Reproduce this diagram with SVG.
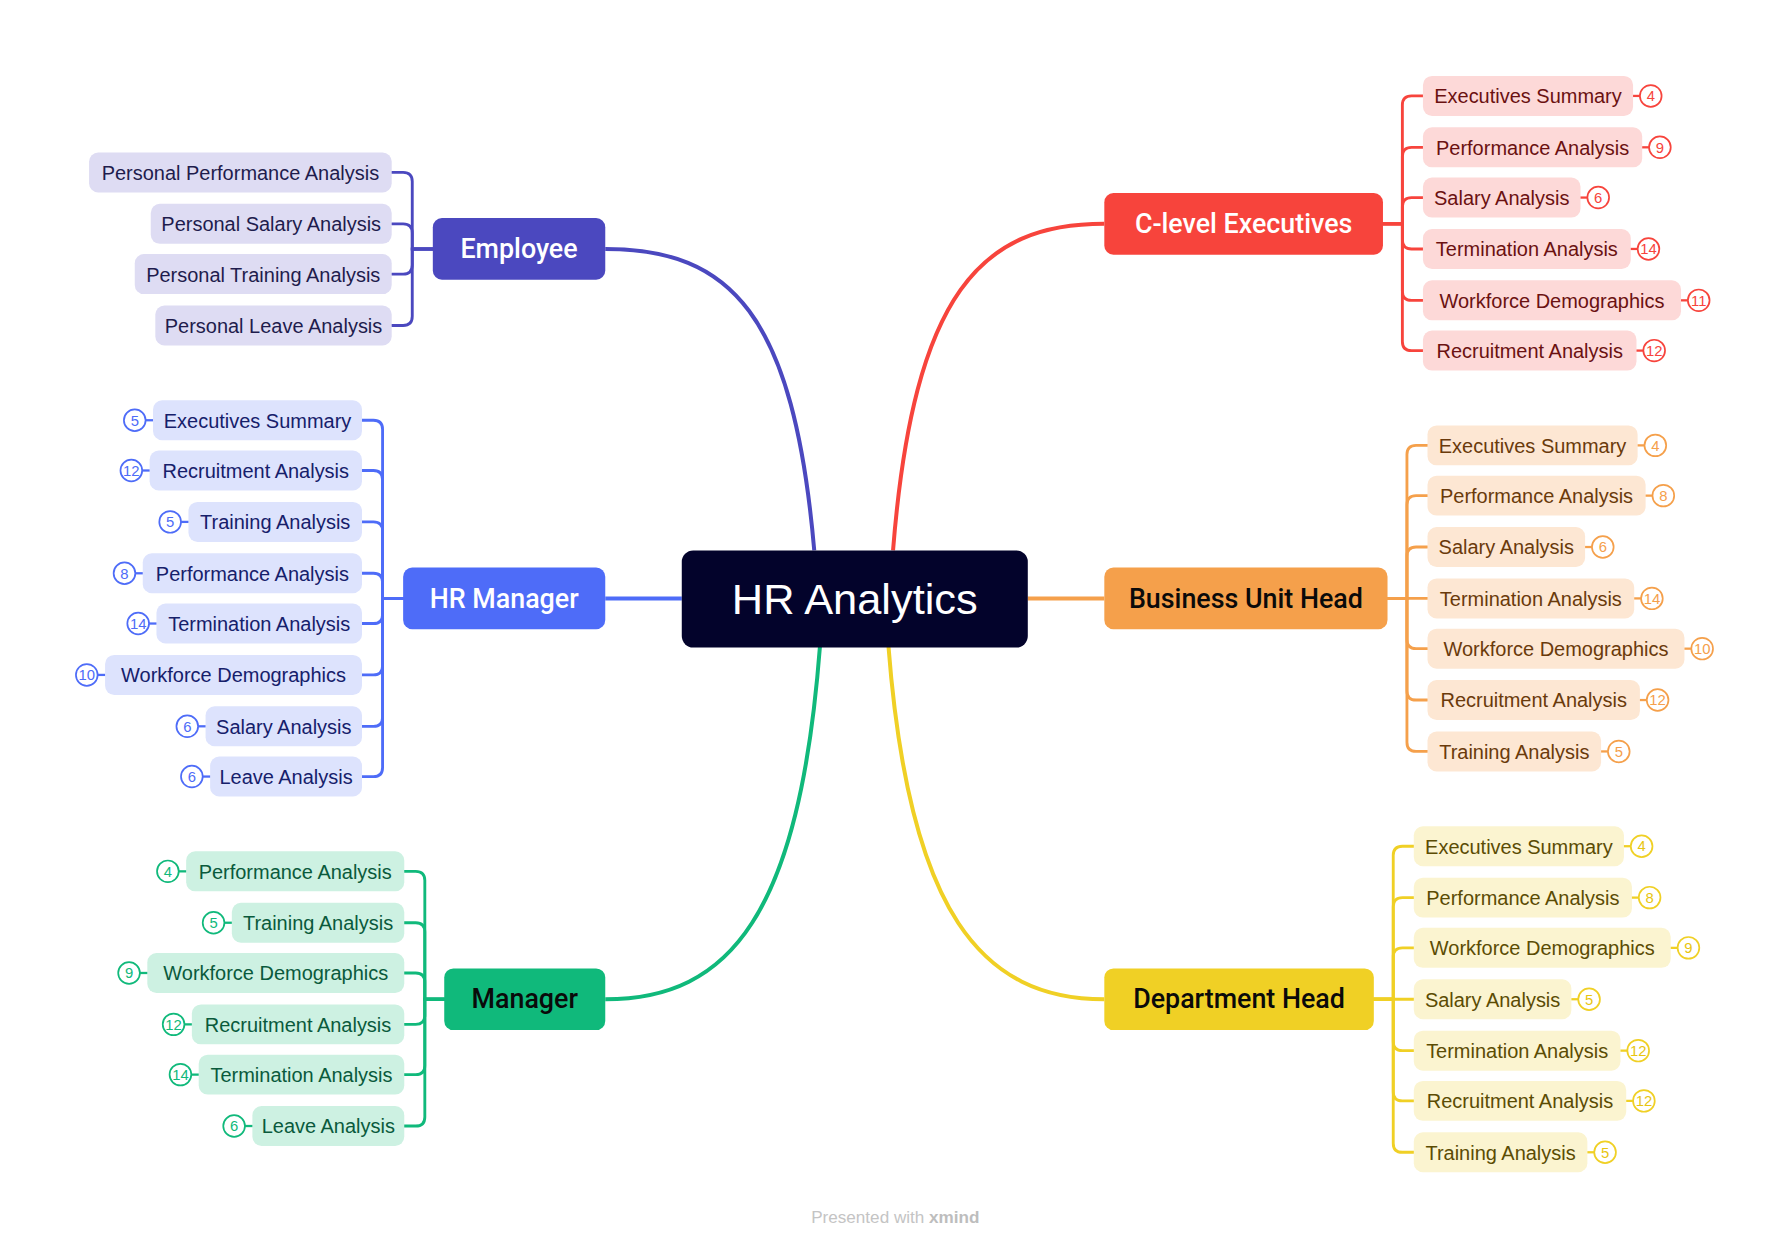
<svg xmlns="http://www.w3.org/2000/svg" width="1791" height="1248" viewBox="0 0 1791 1248">
<style>
text{font-family:"Liberation Sans",Arial,sans-serif}
.sub{font-size:17.5px;text-anchor:middle}
.main{font-family:Roboto,"Liberation Sans",sans-serif;font-size:23.5px;font-weight:500;text-anchor:middle}
.bt{font-size:13px;text-anchor:middle}
.br{fill:#fff;stroke-width:1.5}
.ln{fill:none;stroke-width:2.5;stroke-linecap:round}
.mln{fill:none;stroke-width:3.5}
.emp .c{fill:#DEDCF3}.emp text.sub{fill:#1F1C4D}
.hrm .c{fill:#DDE3FD}.hrm text.sub{fill:#16206B}.hrm .br,.hrm .bl{stroke:#4E6CF8}.hrm .bt{fill:#4E6CF8}
.mgr .c{fill:#CDF1E2}.mgr text.sub{fill:#0A5A3C}.mgr .br,.mgr .bl{stroke:#10B97B}.mgr .bt{fill:#10B97B}
.cl .c{fill:#FDD9D8}.cl text.sub{fill:#6B1111}.cl .br,.cl .bl{stroke:#F7443C}.cl .bt{fill:#F7443C}
.bu .c{fill:#FDE7D3}.bu text.sub{fill:#6A3A0B}.bu .br,.bu .bl{stroke:#F5A04B}.bu .bt{fill:#F5A04B}
.dh .c{fill:#FBF4D0}.dh text.sub{fill:#5B4C04}.dh .br,.dh .bl{stroke:#F0D025}.dh .bt{fill:#E8C510}
.bl{stroke-width:2}
</style>
<rect width="1791" height="1248" fill="#fff"/>
<g transform="scale(1.142)">
<g id="connectors">
<path class="mln" stroke="#4B48BF" d="M713,482 C695,275 640,218 530,218"/>
<path class="mln" stroke="#F7443C" d="M782,482 C800,255 860,196 967,196"/>
<path class="mln" stroke="#10B97B" d="M718,566 C700,800 640,875 530,875"/>
<path class="mln" stroke="#F0D025" d="M778,566 C796,800 860,875 967,875"/>
<path class="mln" stroke="#4E6CF8" d="M597,524 H530"/>
<path class="mln" stroke="#F5A04B" d="M900,524 H967"/>
<g stroke="#4B48BF">
<path class="ln" d="M379,218 H361 V159 Q361,151 353,151 H343"/>
<path class="ln" d="M379,218 H361 V204 Q361,196 353,196 H343"/>
<path class="ln" d="M379,218 H361 V232 Q361,240 353,240 H343"/>
<path class="ln" d="M379,218 H361 V277 Q361,285 353,285 H343"/>
</g>
<g stroke="#4E6CF8">
<path class="ln" d="M353,524 H335 V376 Q335,368 327,368 H317"/>
<path class="ln" d="M353,524 H335 V420 Q335,412 327,412 H317"/>
<path class="ln" d="M353,524 H335 V465 Q335,457 327,457 H317"/>
<path class="ln" d="M353,524 H335 V510 Q335,502 327,502 H317"/>
<path class="ln" d="M353,524 H335 V538 Q335,546 327,546 H317"/>
<path class="ln" d="M353,524 H335 V583 Q335,591 327,591 H317"/>
<path class="ln" d="M353,524 H335 V628 Q335,636 327,636 H317"/>
<path class="ln" d="M353,524 H335 V672 Q335,680 327,680 H317"/>
</g>
<g stroke="#10B97B">
<path class="ln" d="M389,875 H372 V771 Q372,763 364,763 H354"/>
<path class="ln" d="M389,875 H372 V816 Q372,808 364,808 H354"/>
<path class="ln" d="M389,875 H372 V860 Q372,852 364,852 H354"/>
<path class="ln" d="M389,875 H372 V889 Q372,897 364,897 H354"/>
<path class="ln" d="M389,875 H372 V933 Q372,941 364,941 H354"/>
<path class="ln" d="M389,875 H372 V978 Q372,986 364,986 H354"/>
</g>
<g stroke="#F7443C">
<path class="ln" d="M1211,196 H1228 V92 Q1228,84 1236,84 H1246"/>
<path class="ln" d="M1211,196 H1228 V137 Q1228,129 1236,129 H1246"/>
<path class="ln" d="M1211,196 H1228 V181 Q1228,173 1236,173 H1246"/>
<path class="ln" d="M1211,196 H1228 V210 Q1228,218 1236,218 H1246"/>
<path class="ln" d="M1211,196 H1228 V255 Q1228,263 1236,263 H1246"/>
<path class="ln" d="M1211,196 H1228 V299 Q1228,307 1236,307 H1246"/>
</g>
<g stroke="#F5A04B">
<path class="ln" d="M1215,524 H1232 V398 Q1232,390 1240,390 H1250"/>
<path class="ln" d="M1215,524 H1232 V442 Q1232,434 1240,434 H1250"/>
<path class="ln" d="M1215,524 H1232 V487 Q1232,479 1240,479 H1250"/>
<path class="ln" d="M1215,524 H1250"/>
<path class="ln" d="M1215,524 H1232 V560 Q1232,568 1240,568 H1250"/>
<path class="ln" d="M1215,524 H1232 V605 Q1232,613 1240,613 H1250"/>
<path class="ln" d="M1215,524 H1232 V650 Q1232,658 1240,658 H1250"/>
</g>
<g stroke="#F0D025">
<path class="ln" d="M1203,875 H1220 V749 Q1220,741 1228,741 H1238"/>
<path class="ln" d="M1203,875 H1220 V794 Q1220,786 1228,786 H1238"/>
<path class="ln" d="M1203,875 H1220 V838 Q1220,830 1228,830 H1238"/>
<path class="ln" d="M1203,875 H1238"/>
<path class="ln" d="M1203,875 H1220 V912 Q1220,920 1228,920 H1238"/>
<path class="ln" d="M1203,875 H1220 V956 Q1220,964 1228,964 H1238"/>
<path class="ln" d="M1203,875 H1220 V1001 Q1220,1009 1228,1009 H1238"/>
</g>
</g>

<g id="root">
<rect x="597" y="482" width="303" height="85" rx="10" fill="#03032B"/>
<text x="748.5" y="538" font-family="Roboto,'Liberation Sans',sans-serif" font-size="38" font-weight="500" fill="#fff" text-anchor="middle">HR Analytics</text>
</g>

<g id="employee" class="emp">
<rect x="379" y="191" width="151" height="54" rx="8" fill="#4B48BF"/>
<text class="main" x="454.5" y="226" fill="#fff">Employee</text>
</g>
<g id="emp-1" class="emp"><rect class="c" x="78" y="133.5" width="265" height="35" rx="8"/><text class="sub" x="210.5" y="157.5">Personal Performance Analysis</text></g>
<g id="emp-2" class="emp"><rect class="c" x="132" y="178.5" width="211" height="35" rx="8"/><text class="sub" x="237.5" y="202.5">Personal Salary Analysis</text></g>
<g id="emp-3" class="emp"><rect class="c" x="118" y="222.5" width="225" height="35" rx="8"/><text class="sub" x="230.5" y="246.5">Personal Training Analysis</text></g>
<g id="emp-4" class="emp"><rect class="c" x="136" y="267.5" width="207" height="35" rx="8"/><text class="sub" x="239.5" y="291.5">Personal Leave Analysis</text></g>

<g id="hr-manager" class="hrm">
<rect x="353" y="497" width="177" height="54" rx="8" fill="#4E6CF8"/>
<text class="main" x="441.5" y="532" fill="#fff">HR Manager</text>
</g>
<g id="hrm-1" class="hrm"><rect class="c" x="134" y="350.5" width="183" height="35" rx="8"/><text class="sub" x="225.5" y="374.5">Executives Summary</text><line class="bl" x1="127.5" y1="368" x2="134" y2="368"/><circle class="br" cx="118" cy="368" r="9.5"/><text class="bt" x="118" y="372.6">5</text></g>
<g id="hrm-2" class="hrm"><rect class="c" x="131" y="394.5" width="186" height="35" rx="8"/><text class="sub" x="224" y="418.5">Recruitment Analysis</text><line class="bl" x1="124.5" y1="412" x2="131" y2="412"/><circle class="br" cx="115" cy="412" r="9.5"/><text class="bt" x="115" y="416.6">12</text></g>
<g id="hrm-3" class="hrm"><rect class="c" x="165" y="439.5" width="152" height="35" rx="8"/><text class="sub" x="241" y="463.5">Training Analysis</text><line class="bl" x1="158.5" y1="457" x2="165" y2="457"/><circle class="br" cx="149" cy="457" r="9.5"/><text class="bt" x="149" y="461.6">5</text></g>
<g id="hrm-4" class="hrm"><rect class="c" x="125" y="484.5" width="192" height="35" rx="8"/><text class="sub" x="221" y="508.5">Performance Analysis</text><line class="bl" x1="118.5" y1="502" x2="125" y2="502"/><circle class="br" cx="109" cy="502" r="9.5"/><text class="bt" x="109" y="506.6">8</text></g>
<g id="hrm-5" class="hrm"><rect class="c" x="137" y="528.5" width="180" height="35" rx="8"/><text class="sub" x="227" y="552.5">Termination Analysis</text><line class="bl" x1="130.5" y1="546" x2="137" y2="546"/><circle class="br" cx="121" cy="546" r="9.5"/><text class="bt" x="121" y="550.6">14</text></g>
<g id="hrm-6" class="hrm"><rect class="c" x="92" y="573.5" width="225" height="35" rx="8"/><text class="sub" x="204.5" y="597.5">Workforce Demographics</text><line class="bl" x1="85.5" y1="591" x2="92" y2="591"/><circle class="br" cx="76" cy="591" r="9.5"/><text class="bt" x="76" y="595.6">10</text></g>
<g id="hrm-7" class="hrm"><rect class="c" x="180" y="618.5" width="137" height="35" rx="8"/><text class="sub" x="248.5" y="642.5">Salary Analysis</text><line class="bl" x1="173.5" y1="636" x2="180" y2="636"/><circle class="br" cx="164" cy="636" r="9.5"/><text class="bt" x="164" y="640.6">6</text></g>
<g id="hrm-8" class="hrm"><rect class="c" x="184" y="662.5" width="133" height="35" rx="8"/><text class="sub" x="250.5" y="686.5">Leave Analysis</text><line class="bl" x1="177.5" y1="680" x2="184" y2="680"/><circle class="br" cx="168" cy="680" r="9.5"/><text class="bt" x="168" y="684.6">6</text></g>

<g id="manager" class="mgr">
<rect x="389" y="848" width="141" height="54" rx="8" fill="#10B97B"/>
<text class="main" x="459.5" y="883" fill="#0A0A0A">Manager</text>
</g>
<g id="mgr-1" class="mgr"><rect class="c" x="163" y="745.5" width="191" height="35" rx="8"/><text class="sub" x="258.5" y="769.5">Performance Analysis</text><line class="bl" x1="156.5" y1="763" x2="163" y2="763"/><circle class="br" cx="147" cy="763" r="9.5"/><text class="bt" x="147" y="767.6">4</text></g>
<g id="mgr-2" class="mgr"><rect class="c" x="203" y="790.5" width="151" height="35" rx="8"/><text class="sub" x="278.5" y="814.5">Training Analysis</text><line class="bl" x1="196.5" y1="808" x2="203" y2="808"/><circle class="br" cx="187" cy="808" r="9.5"/><text class="bt" x="187" y="812.6">5</text></g>
<g id="mgr-3" class="mgr"><rect class="c" x="129" y="834.5" width="225" height="35" rx="8"/><text class="sub" x="241.5" y="858.5">Workforce Demographics</text><line class="bl" x1="122.5" y1="852" x2="129" y2="852"/><circle class="br" cx="113" cy="852" r="9.5"/><text class="bt" x="113" y="856.6">9</text></g>
<g id="mgr-4" class="mgr"><rect class="c" x="168" y="879.5" width="186" height="35" rx="8"/><text class="sub" x="261" y="903.5">Recruitment Analysis</text><line class="bl" x1="161.5" y1="897" x2="168" y2="897"/><circle class="br" cx="152" cy="897" r="9.5"/><text class="bt" x="152" y="901.6">12</text></g>
<g id="mgr-5" class="mgr"><rect class="c" x="174" y="923.5" width="180" height="35" rx="8"/><text class="sub" x="264" y="947.5">Termination Analysis</text><line class="bl" x1="167.5" y1="941" x2="174" y2="941"/><circle class="br" cx="158" cy="941" r="9.5"/><text class="bt" x="158" y="945.6">14</text></g>
<g id="mgr-6" class="mgr"><rect class="c" x="221" y="968.5" width="133" height="35" rx="8"/><text class="sub" x="287.5" y="992.5">Leave Analysis</text><line class="bl" x1="214.5" y1="986" x2="221" y2="986"/><circle class="br" cx="205" cy="986" r="9.5"/><text class="bt" x="205" y="990.6">6</text></g>

<g id="c-level" class="cl">
<rect x="967" y="169" width="244" height="54" rx="8" fill="#F7443C"/>
<text class="main" x="1089" y="204" fill="#fff">C-level Executives</text>
</g>
<g id="cl-1" class="cl"><rect class="c" x="1246" y="66.5" width="184" height="35" rx="8"/><text class="sub" x="1338" y="90.5">Executives Summary</text><line class="bl" x1="1430" y1="84" x2="1436" y2="84"/><circle class="br" cx="1445.5" cy="84" r="9.5"/><text class="bt" x="1445.5" y="88.6">4</text></g>
<g id="cl-2" class="cl"><rect class="c" x="1246" y="111.5" width="192" height="35" rx="8"/><text class="sub" x="1342" y="135.5">Performance Analysis</text><line class="bl" x1="1438" y1="129" x2="1444" y2="129"/><circle class="br" cx="1453.5" cy="129" r="9.5"/><text class="bt" x="1453.5" y="133.6">9</text></g>
<g id="cl-3" class="cl"><rect class="c" x="1246" y="155.5" width="138" height="35" rx="8"/><text class="sub" x="1315" y="179.5">Salary Analysis</text><line class="bl" x1="1384" y1="173" x2="1390" y2="173"/><circle class="br" cx="1399.5" cy="173" r="9.5"/><text class="bt" x="1399.5" y="177.6">6</text></g>
<g id="cl-4" class="cl"><rect class="c" x="1246" y="200.5" width="182" height="35" rx="8"/><text class="sub" x="1337" y="224.5">Termination Analysis</text><line class="bl" x1="1428" y1="218" x2="1434" y2="218"/><circle class="br" cx="1443.5" cy="218" r="9.5"/><text class="bt" x="1443.5" y="222.6">14</text></g>
<g id="cl-5" class="cl"><rect class="c" x="1246" y="245.5" width="226" height="35" rx="8"/><text class="sub" x="1359" y="269.5">Workforce Demographics</text><line class="bl" x1="1472" y1="263" x2="1478" y2="263"/><circle class="br" cx="1487.5" cy="263" r="9.5"/><text class="bt" x="1487.5" y="267.6">11</text></g>
<g id="cl-6" class="cl"><rect class="c" x="1246" y="289.5" width="187" height="35" rx="8"/><text class="sub" x="1339.5" y="313.5">Recruitment Analysis</text><line class="bl" x1="1433" y1="307" x2="1439" y2="307"/><circle class="br" cx="1448.5" cy="307" r="9.5"/><text class="bt" x="1448.5" y="311.6">12</text></g>

<g id="business-unit-head" class="bu">
<rect x="967" y="497" width="248" height="54" rx="8" fill="#F5A04B"/>
<text class="main" x="1091" y="532" fill="#0A0A0A">Business Unit Head</text>
</g>
<g id="bu-1" class="bu"><rect class="c" x="1250" y="372.5" width="184" height="35" rx="8"/><text class="sub" x="1342" y="396.5">Executives Summary</text><line class="bl" x1="1434" y1="390" x2="1440" y2="390"/><circle class="br" cx="1449.5" cy="390" r="9.5"/><text class="bt" x="1449.5" y="394.6">4</text></g>
<g id="bu-2" class="bu"><rect class="c" x="1250" y="416.5" width="191" height="35" rx="8"/><text class="sub" x="1345.5" y="440.5">Performance Analysis</text><line class="bl" x1="1441" y1="434" x2="1447" y2="434"/><circle class="br" cx="1456.5" cy="434" r="9.5"/><text class="bt" x="1456.5" y="438.6">8</text></g>
<g id="bu-3" class="bu"><rect class="c" x="1250" y="461.5" width="138" height="35" rx="8"/><text class="sub" x="1319" y="485.5">Salary Analysis</text><line class="bl" x1="1388" y1="479" x2="1394" y2="479"/><circle class="br" cx="1403.5" cy="479" r="9.5"/><text class="bt" x="1403.5" y="483.6">6</text></g>
<g id="bu-4" class="bu"><rect class="c" x="1250" y="506.5" width="181" height="35" rx="8"/><text class="sub" x="1340.5" y="530.5">Termination Analysis</text><line class="bl" x1="1431" y1="524" x2="1437" y2="524"/><circle class="br" cx="1446.5" cy="524" r="9.5"/><text class="bt" x="1446.5" y="528.6">14</text></g>
<g id="bu-5" class="bu"><rect class="c" x="1250" y="550.5" width="225" height="35" rx="8"/><text class="sub" x="1362.5" y="574.5">Workforce Demographics</text><line class="bl" x1="1475" y1="568" x2="1481" y2="568"/><circle class="br" cx="1490.5" cy="568" r="9.5"/><text class="bt" x="1490.5" y="572.6">10</text></g>
<g id="bu-6" class="bu"><rect class="c" x="1250" y="595.5" width="186" height="35" rx="8"/><text class="sub" x="1343" y="619.5">Recruitment Analysis</text><line class="bl" x1="1436" y1="613" x2="1442" y2="613"/><circle class="br" cx="1451.5" cy="613" r="9.5"/><text class="bt" x="1451.5" y="617.6">12</text></g>
<g id="bu-7" class="bu"><rect class="c" x="1250" y="640.5" width="152" height="35" rx="8"/><text class="sub" x="1326" y="664.5">Training Analysis</text><line class="bl" x1="1402" y1="658" x2="1408" y2="658"/><circle class="br" cx="1417.5" cy="658" r="9.5"/><text class="bt" x="1417.5" y="662.6">5</text></g>

<g id="department-head" class="dh">
<rect x="967" y="848" width="236" height="54" rx="8" fill="#F0D025"/>
<text class="main" x="1085" y="883" fill="#0A0A0A">Department Head</text>
</g>
<g id="dh-1" class="dh"><rect class="c" x="1238" y="723.5" width="184" height="35" rx="8"/><text class="sub" x="1330" y="747.5">Executives Summary</text><line class="bl" x1="1422" y1="741" x2="1428" y2="741"/><circle class="br" cx="1437.5" cy="741" r="9.5"/><text class="bt" x="1437.5" y="745.6">4</text></g>
<g id="dh-2" class="dh"><rect class="c" x="1238" y="768.5" width="191" height="35" rx="8"/><text class="sub" x="1333.5" y="792.5">Performance Analysis</text><line class="bl" x1="1429" y1="786" x2="1435" y2="786"/><circle class="br" cx="1444.5" cy="786" r="9.5"/><text class="bt" x="1444.5" y="790.6">8</text></g>
<g id="dh-3" class="dh"><rect class="c" x="1238" y="812.5" width="225" height="35" rx="8"/><text class="sub" x="1350.5" y="836.5">Workforce Demographics</text><line class="bl" x1="1463" y1="830" x2="1469" y2="830"/><circle class="br" cx="1478.5" cy="830" r="9.5"/><text class="bt" x="1478.5" y="834.6">9</text></g>
<g id="dh-4" class="dh"><rect class="c" x="1238" y="857.5" width="138" height="35" rx="8"/><text class="sub" x="1307" y="881.5">Salary Analysis</text><line class="bl" x1="1376" y1="875" x2="1382" y2="875"/><circle class="br" cx="1391.5" cy="875" r="9.5"/><text class="bt" x="1391.5" y="879.6">5</text></g>
<g id="dh-5" class="dh"><rect class="c" x="1238" y="902.5" width="181" height="35" rx="8"/><text class="sub" x="1328.5" y="926.5">Termination Analysis</text><line class="bl" x1="1419" y1="920" x2="1425" y2="920"/><circle class="br" cx="1434.5" cy="920" r="9.5"/><text class="bt" x="1434.5" y="924.6">12</text></g>
<g id="dh-6" class="dh"><rect class="c" x="1238" y="946.5" width="186" height="35" rx="8"/><text class="sub" x="1331" y="970.5">Recruitment Analysis</text><line class="bl" x1="1424" y1="964" x2="1430" y2="964"/><circle class="br" cx="1439.5" cy="964" r="9.5"/><text class="bt" x="1439.5" y="968.6">12</text></g>
<g id="dh-7" class="dh"><rect class="c" x="1238" y="991.5" width="152" height="35" rx="8"/><text class="sub" x="1314" y="1015.5">Training Analysis</text><line class="bl" x1="1390" y1="1009" x2="1396" y2="1009"/><circle class="br" cx="1405.5" cy="1009" r="9.5"/><text class="bt" x="1405.5" y="1013.6">5</text></g>

<text x="784" y="1071" font-size="15" fill="#C4C4C4" text-anchor="middle">Presented with <tspan font-weight="bold" fill="#BDBDBD">xmind</tspan></text>
</g>
</svg>
